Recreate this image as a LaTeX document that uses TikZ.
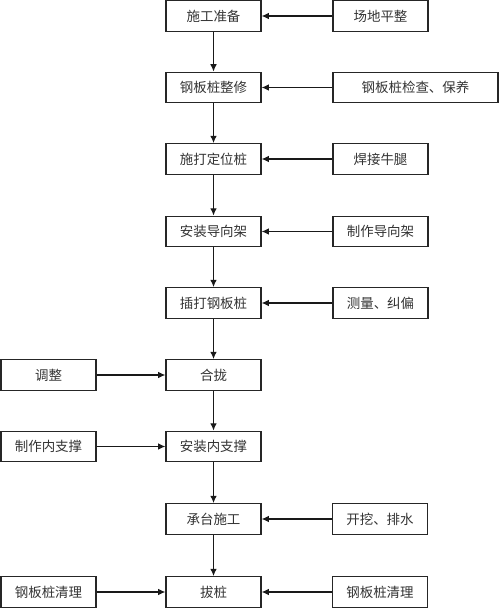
\documentclass[tikz,border=0pt]{standalone}
\usepackage{fontspec}
\newfontfamily\cjk{Noto Sans CJK SC}
\usetikzlibrary{arrows.meta}

\begin{document}
\begin{tikzpicture}[x = 0.03cm, y = -0.03cm,
	box/.style = {draw = black!85, line width = 1pt, minimum width = 2.85cm, minimum height = 0.92cm, inner sep = 0pt, text = black!80, font = \cjk\fontsize{11.5}{13}\selectfont},
	flow/.style = {draw = black!90, line width = 1pt, > = {Latex[length = 2.2mm, width = 2mm]}, ->}]
	
	\useasboundingbox (0, 0) rectangle (500, 609);
	
	% The main steps
	
	\foreach \n/\y/\t in {m1/16/施工准备, m2/87.5/钢板桩整修, m3/159/施打定位桩, m4/231.5/安装导向架, m5/303/插打钢板桩, m6/375/合拢, m7/446.5/安装内支撑, m8/519/承台施工, m9/592/拔桩}
	{
		\node [box] (\n) at (213.5, \y) {\t};
	}
	
	\foreach \a/\b in {m1/m2, m2/m3, m3/m4, m4/m5, m5/m6, m6/m7, m7/m8, m8/m9}
	{
		\draw [flow] (\a) -- (\b);
	}
	
	% Side jobs on the right
	
	\node [box] (r1) at (380.5, 16) {场地平整};
	\node [box, minimum width = 4.95cm] (r2) at (415.5, 87.5) {钢板桩检查、保养};
	\node [box] (r3) at (380.5, 159) {焊接牛腿};
	\node [box] (r4) at (380.5, 231.5) {制作导向架};
	\node [box] (r5) at (380.5, 303) {测量、纠偏};
	\node [box] (r8) at (380, 519) {开挖、排水};
	\node [box] (r9) at (380, 592) {钢板桩清理};
	
	\foreach \n in {1, 2, 3, 4, 5, 8, 9}
	{
		\draw [flow] (r\n) -- (m\n);
	}
	
	% Side jobs on the left
	
	\node [box] (l6) at (48.5, 375) {调整};
	\node [box] (l7) at (48.5, 446.5) {制作内支撑};
	\node [box] (l9) at (48.5, 592) {钢板桩清理};
	
	\foreach \n in {6, 7, 9}
	{
		\draw [flow] (l\n) -- (m\n);
	}

\end{tikzpicture}
\end{document}
